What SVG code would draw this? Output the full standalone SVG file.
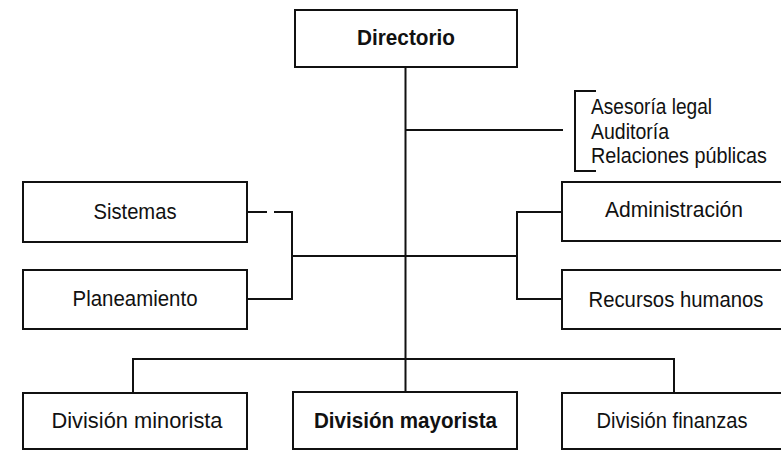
<svg xmlns="http://www.w3.org/2000/svg" width="781" height="451" viewBox="0 0 781 451">
  <style>
    .box { fill: #ffffff; stroke: #111111; stroke-width: 2; }
    .line { fill: none; stroke: #111111; stroke-width: 2; }
    .lbl { font-family: "Liberation Sans", Arial, sans-serif; font-size: 21.5px; fill: #111111; text-anchor: middle; }
    .bold { font-weight: bold; }
    .list { font-family: "Liberation Sans", Arial, sans-serif; font-size: 21.5px; fill: #111111; }
  </style>
  <rect x="0" y="0" width="781" height="451" fill="#ffffff"/>

  <!-- connectors -->
  <g id="connectors">
    <!-- main spine -->
    <path class="line" d="M405.5 67 V392"/>
    <!-- staff branch with bracket -->
    <path class="line" d="M405.5 130 H563"/>
    <path class="line" d="M596 91 H575 V171 H596"/>
    <!-- left staff units -->
    <path class="line" d="M292 256 H405.5"/>
    <path class="line" d="M274 212 H292 V299 H247"/>
    <path class="line" d="M247 212 H267"/>
    <!-- right staff units -->
    <path class="line" d="M405.5 256 H517"/>
    <path class="line" d="M562 212 H517 V299 H562"/>
    <!-- divisions -->
    <path class="line" d="M133 393 V359 H674 V393"/>
  </g>

  <g id="directorio">
    <rect class="box" x="295" y="10" width="222" height="57"/>
    <text class="lbl bold" x="406" y="45" textLength="98" lengthAdjust="spacingAndGlyphs">Directorio</text>
  </g>

  <g id="staff">
    <text class="list" x="591" y="114" textLength="121" lengthAdjust="spacingAndGlyphs">Asesoría legal</text>
    <text class="list" x="591" y="139" textLength="78" lengthAdjust="spacingAndGlyphs">Auditoría</text>
    <text class="list" x="591" y="163" textLength="176" lengthAdjust="spacingAndGlyphs">Relaciones públicas</text>
  </g>

  <g id="sistemas">
    <rect class="box" x="23" y="182" width="224" height="60"/>
    <text class="lbl" x="135" y="219" textLength="83" lengthAdjust="spacingAndGlyphs">Sistemas</text>
  </g>

  <g id="planeamiento">
    <rect class="box" x="23" y="270" width="224" height="59"/>
    <text class="lbl" x="135" y="306" textLength="125" lengthAdjust="spacingAndGlyphs">Planeamiento</text>
  </g>

  <g id="administracion">
    <rect class="box" x="562" y="182" width="228" height="59"/>
    <text class="lbl" x="674" y="217" textLength="138" lengthAdjust="spacingAndGlyphs">Administración</text>
  </g>

  <g id="recursos-humanos">
    <rect class="box" x="562" y="270" width="228" height="59"/>
    <text class="lbl" x="676" y="307" textLength="175" lengthAdjust="spacingAndGlyphs">Recursos humanos</text>
  </g>

  <g id="division-minorista">
    <rect class="box" x="23" y="393" width="224" height="56"/>
    <text class="lbl" x="137" y="428" textLength="171" lengthAdjust="spacingAndGlyphs">División minorista</text>
  </g>

  <g id="division-mayorista">
    <rect class="box" x="293" y="392" width="224" height="57"/>
    <text class="lbl bold" x="405.5" y="428" textLength="183" lengthAdjust="spacingAndGlyphs">División mayorista</text>
  </g>

  <g id="division-finanzas">
    <rect class="box" x="562" y="393" width="228" height="56"/>
    <text class="lbl" x="672" y="428" textLength="151" lengthAdjust="spacingAndGlyphs">División finanzas</text>
  </g>
</svg>
